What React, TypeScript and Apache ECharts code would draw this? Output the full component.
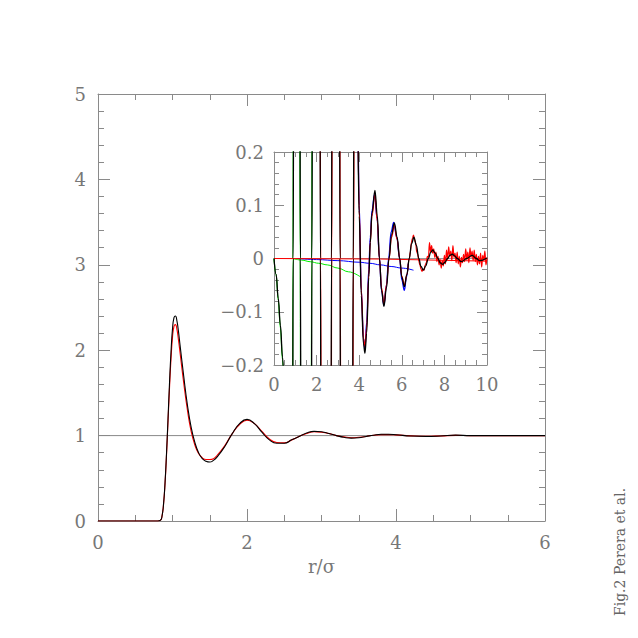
import React, { useEffect, useRef } from "react";
import * as echarts from "echarts";

// ---- Main panel: g(r) ----
const mainBlack: [number, number][] = [
  [0, 0], [0.8, 0], [0.84, 0.01], [0.86, 0.06], [0.88, 0.2], [0.9, 0.45], [0.92, 0.8], [0.94, 1.2],
  [0.96, 1.62], [0.98, 1.98], [1.0, 2.25], [1.02, 2.38], [1.04, 2.4], [1.06, 2.34], [1.08, 2.22],
  [1.1, 2.07], [1.15, 1.7], [1.2, 1.36], [1.25, 1.1], [1.3, 0.92], [1.35, 0.8], [1.4, 0.73],
  [1.45, 0.7], [1.5, 0.69], [1.55, 0.71], [1.6, 0.75], [1.7, 0.87], [1.8, 1.02], [1.9, 1.14],
  [2.0, 1.19], [2.1, 1.14], [2.2, 1.04], [2.3, 0.95], [2.4, 0.91], [2.5, 0.91], [2.6, 0.95],
  [2.7, 0.99], [2.8, 1.03], [2.9, 1.05], [3.0, 1.045], [3.1, 1.025], [3.2, 1.0], [3.3, 0.98],
  [3.4, 0.97], [3.5, 0.975], [3.6, 0.99], [3.7, 1.005], [3.8, 1.015], [3.9, 1.015], [4.0, 1.01],
  [4.2, 0.995], [4.4, 0.99], [4.6, 0.995], [4.8, 1.005], [5.0, 1.0], [5.4, 1.0], [6.0, 1.0],
];
const mainRed: [number, number][] = [
  [0, 0], [0.8, 0], [0.84, 0.01], [0.86, 0.06], [0.88, 0.2], [0.9, 0.44], [0.92, 0.78], [0.94, 1.17],
  [0.96, 1.56], [0.98, 1.9], [1.0, 2.15], [1.02, 2.28], [1.04, 2.3], [1.06, 2.24], [1.08, 2.12],
  [1.1, 1.98], [1.15, 1.62], [1.2, 1.3], [1.25, 1.05], [1.3, 0.89], [1.35, 0.79], [1.4, 0.74],
  [1.45, 0.72], [1.5, 0.72], [1.55, 0.73], [1.6, 0.77], [1.7, 0.88], [1.8, 1.02], [1.9, 1.13],
  [2.0, 1.18], [2.1, 1.14], [2.2, 1.05], [2.3, 0.96], [2.4, 0.92], [2.5, 0.915], [2.6, 0.95],
  [2.7, 0.99], [2.8, 1.025], [2.9, 1.045], [3.0, 1.04], [3.1, 1.025], [3.2, 1.0], [3.3, 0.985],
  [3.4, 0.975], [3.5, 0.98], [3.6, 0.99], [3.7, 1.005], [3.8, 1.012], [3.9, 1.012], [4.0, 1.008],
  [4.2, 0.997], [4.4, 0.992], [4.6, 0.996], [4.8, 1.003], [5.0, 1.0], [5.4, 1.0], [6.0, 1.0],
];
const mainRefLine: [number, number][] = [[0, 1], [6, 1]];

// ---- Inset ----
const insetBlack: [number, number][] = [
  [0, 0], [0.1, -0.03], [0.2, -0.075], [0.3, -0.125], [0.4, -0.185], [0.5, -0.26], [0.65, -0.5],
  [0.8, -1.0], [0.87, -0.5], [0.9, 0], [0.93, 0.5], [1.07, 2.0], [1.21, 0.5], [1.24, 0], [1.27, -0.5],
  [1.5, -1.5], [1.75, -0.5], [1.78, 0], [1.81, 0.5], [1.98, 1.2], [2.15, 0.5], [2.18, 0], [2.21, -0.5],
  [2.44, -0.9], [2.67, -0.5], [2.7, 0], [2.73, 0.5], [2.9, 0.9], [3.07, 0.5], [3.1, 0], [3.13, -0.5],
  [3.4, -0.7], [3.68, -0.4], [3.72, 0], [3.76, 0.35], [3.84, 0.45], [3.91, 0.3], [4.0, 0.08],
  [4.1, -0.07], [4.2, -0.16], [4.27, -0.178], [4.35, -0.14], [4.45, -0.035], [4.52, 0.03],
  [4.6, 0.085], [4.74, 0.128], [4.85, 0.08], [4.95, 0], [5.05, -0.06], [5.16, -0.09], [5.28, -0.055],
  [5.4, 0], [5.52, 0.045], [5.65, 0.067], [5.78, 0.04], [5.9, 0], [6.0, -0.035], [6.12, -0.053],
  [6.24, -0.03], [6.35, 0], [6.46, 0.028], [6.57, 0.04], [6.68, 0.025], [6.8, 0], [6.9, -0.015],
  [7.01, -0.022], [7.12, -0.014], [7.25, 0], [7.35, 0.011], [7.45, 0.016], [7.57, 0.01], [7.7, 0],
  [7.8, -0.008], [7.92, -0.011], [8.03, -0.007], [8.15, 0], [8.26, 0.006], [8.37, 0.008],
  [8.48, 0.005], [8.6, 0], [8.8, -0.006], [9.05, 0], [9.3, 0.006], [9.5, 0], [9.65, -0.004], [10, 0.001],
];
const insetRed: [number, number][] = [
  [2.0, 1.1], [2.16, 0.5], [2.19, 0], [2.22, -0.5], [2.45, -0.9], [2.68, -0.5], [2.71, 0], [2.74, 0.5],
  [2.9, 0.9], [3.08, 0.5], [3.11, 0], [3.14, -0.5], [3.4, -0.7], [3.69, -0.4], [3.73, 0], [3.77, 0.35],
  [3.85, 0.45], [3.92, 0.3], [4.0, 0.09], [4.1, -0.06], [4.2, -0.15], [4.27, -0.165], [4.35, -0.13],
  [4.45, -0.03], [4.52, 0.03], [4.6, 0.08], [4.74, 0.12], [4.85, 0.07], [4.95, 0.0], [5.05, -0.055],
  [5.16, -0.085], [5.28, -0.05], [5.4, 0.0], [5.52, 0.04], [5.65, 0.062], [5.78, 0.036], [5.9, 0.0],
  [6.0, -0.033], [6.12, -0.05], [6.24, -0.03], [6.35, 0.0],
  [6.4, 0.012], [6.45, 0.03], [6.5, 0.038], [6.55, 0.044], [6.6, 0.034], [6.65, 0.03], [6.7, 0.012],
  [6.75, 0.008], [6.8, -0.005], [6.85, -0.012], [6.9, -0.02], [6.95, -0.024], [7.0, -0.02],
  [7.05, -0.022], [7.1, -0.012], [7.15, -0.008], [7.2, 0.004], [7.25, 0.002], [7.3, 0.03],
  [7.35, 0.012], [7.4, 0.024], [7.45, 0.01], [7.5, 0.018], [7.55, 0.002], [7.6, 0.012],
  [7.65, -0.006], [7.7, 0.004], [7.75, -0.012], [7.8, -0.002], [7.85, -0.018], [7.9, -0.004],
  [7.95, -0.014], [8.0, 0.006], [8.05, -0.01], [8.1, 0.016], [8.15, -0.002], [8.2, 0.022],
  [8.25, 0.004], [8.3, 0.014], [8.35, -0.004], [8.4, 0.024], [8.45, 0.002], [8.5, 0.01],
  [8.55, -0.008], [8.6, 0.012], [8.65, -0.01], [8.7, 0.004], [8.75, -0.016], [8.8, 0.002],
  [8.85, -0.008], [8.9, 0.008], [8.95, -0.006], [9.0, 0.018], [9.05, -0.002], [9.1, 0.012],
  [9.15, -0.008], [9.2, 0.02], [9.25, 0.002], [9.3, 0.014], [9.35, -0.004], [9.4, 0.016],
  [9.45, -0.006], [9.5, 0.008], [9.55, -0.012], [9.6, 0.004], [9.65, -0.01], [9.7, 0.01],
  [9.75, -0.016], [9.8, 0.006], [9.85, -0.004], [9.9, 0.014], [9.95, -0.012], [10.0, 0.002],
];
const insetRedFlat: [number, number][] = [[0, 0], [5, -0.001], [10, -0.005]];
const insetGreenOsc: [number, number][] = [
  [0, 0], [0.1, -0.03], [0.2, -0.078], [0.3, -0.13], [0.4, -0.19], [0.5, -0.27], [0.65, -0.5],
  [0.8, -1.0], [0.86, -0.5], [0.89, 0], [0.92, 0.5], [1.06, 2.0], [1.2, 0.5], [1.23, 0], [1.26, -0.5],
  [1.5, -1.5], [1.74, -0.5], [1.77, 0], [1.8, 0.5], [1.9, 1.0],
];
const insetGreenTail: [number, number][] = [
  [0.9, 0], [1.3, -0.003], [1.7, -0.006], [2.1, -0.009], [2.5, -0.012], [3.0, -0.018],
  [3.5, -0.025], [4.04, -0.034],
];
const insetBlueTail: [number, number][] = [
  [1.1, 0], [2, -0.002], [3, -0.004], [4, -0.007], [4.5, -0.009], [5, -0.012], [5.5, -0.015],
  [6, -0.018], [6.55, -0.022],
];
const insetBlueOsc: [number, number][] = [
  [3.85, 0.45], [3.92, 0.3], [4.0, 0.1], [4.1, -0.06], [4.2, -0.15], [4.27, -0.17], [4.35, -0.12],
  [4.45, -0.02], [4.52, 0.04], [4.6, 0.09], [4.72, 0.12], [4.84, 0.075], [4.95, 0], [5.05, -0.06],
  [5.16, -0.088], [5.28, -0.05], [5.38, 0], [5.5, 0.05], [5.62, 0.068], [5.76, 0.04], [5.9, 0],
  [6.0, -0.04], [6.12, -0.06], [6.22, -0.035], [6.3, -0.01],
];
const insetRefLine: [number, number][] = [[0, 0], [10, 0]];

const xLabel = "r/σ";
const sideNote = "Fig.2 Perera et al.";

const FONT = "DejaVu Serif";
const AXIS_COLOR = "#8a8a8a";
const LABEL_COLOR = "#777";

function axisBase(extra: any) {
  return {
    type: "value",
    splitLine: { show: false },
    axisLine: { show: true, onZero: false, lineStyle: { color: AXIS_COLOR, width: 1 } },
    axisTick: { show: true, inside: true, length: 12, lineStyle: { color: AXIS_COLOR } },
    minorTick: { show: true, length: 6, lineStyle: { color: AXIS_COLOR } },
    axisLabel: { show: false },
    ...extra,
  };
}

export default function App() {
  const ref = useRef<HTMLDivElement>(null);
  useEffect(() => {
    if (!ref.current) return;
    const chart = echarts.init(ref.current, null, { renderer: "svg" });
    const lbl = (margin: number) => ({
      show: true,
      color: LABEL_COLOR,
      fontFamily: FONT,
      fontSize: 18,
      margin,
    });
    const insetFmt = (v: number) => {
      if (Math.abs(v) < 1e-9) return "0";
      const s = Math.abs(v).toFixed(1);
      return v < 0 ? "\u2212" + s : s;
    };
    const line = (data: any, color: string, xi: number, z = 2, width = 1, smooth: any = 0.4, mono: any = "x") => ({
      type: "line",
      data,
      xAxisIndex: xi,
      yAxisIndex: xi,
      showSymbol: false,
      symbol: "none",
      smooth,
      smoothMonotone: mono,
      clip: true,
      z,
      lineStyle: { color, width },
      emphasis: { disabled: true },
    });
    chart.setOption({
      animation: false,
      backgroundColor: "#fff",
      grid: [
        { left: 98, top: 94, width: 447, height: 427 },
        { left: 274, top: 152, width: 213, height: 213 },
      ],
      xAxis: [
        axisBase({
          gridIndex: 0, position: "bottom", min: 0, max: 6, interval: 2,
          minorTick: { show: true, splitNumber: 4, length: 6, lineStyle: { color: AXIS_COLOR } },
          axisLabel: lbl(12),
          name: xLabel, nameLocation: "middle", nameGap: 36,
          nameTextStyle: { color: LABEL_COLOR, fontFamily: FONT, fontSize: 18 },
        }),
        axisBase({
          gridIndex: 0, position: "top", min: 0, max: 6, interval: 2,
          minorTick: { show: true, splitNumber: 4, length: 6, lineStyle: { color: AXIS_COLOR } },
        }),
        axisBase({
          gridIndex: 1, position: "bottom", min: 0, max: 10, interval: 2,
          axisTick: { show: true, inside: true, length: 10, lineStyle: { color: AXIS_COLOR } },
          minorTick: { show: true, splitNumber: 4, length: 5, lineStyle: { color: AXIS_COLOR } },
          axisLabel: lbl(10),
        }),
        axisBase({
          gridIndex: 1, position: "top", min: 0, max: 10, interval: 2,
          axisTick: { show: true, inside: true, length: 10, lineStyle: { color: AXIS_COLOR } },
          minorTick: { show: true, splitNumber: 4, length: 5, lineStyle: { color: AXIS_COLOR } },
        }),
      ],
      yAxis: [
        axisBase({
          gridIndex: 0, position: "left", min: 0, max: 5, interval: 1,
          minorTick: { show: true, splitNumber: 5, length: 6, lineStyle: { color: AXIS_COLOR } },
          axisLabel: lbl(12),
        }),
        axisBase({
          gridIndex: 0, position: "right", min: 0, max: 5, interval: 1,
          minorTick: { show: true, splitNumber: 5, length: 6, lineStyle: { color: AXIS_COLOR } },
        }),
        axisBase({
          gridIndex: 1, position: "left", min: -0.2, max: 0.2, interval: 0.1,
          axisTick: { show: true, inside: true, length: 10, lineStyle: { color: AXIS_COLOR } },
          minorTick: { show: true, splitNumber: 5, length: 5, lineStyle: { color: AXIS_COLOR } },
          axisLabel: { ...lbl(10), formatter: insetFmt },
        }),
        axisBase({
          gridIndex: 1, position: "right", min: -0.2, max: 0.2, interval: 0.1,
          axisTick: { show: true, inside: true, length: 10, lineStyle: { color: AXIS_COLOR } },
          minorTick: { show: true, splitNumber: 5, length: 5, lineStyle: { color: AXIS_COLOR } },
        }),
      ],
      series: [
        line(mainRefLine, "#888", 0, 1, 1, false, null),
        line(mainRed, "#ff0000", 0, 2, 1.1, 0.5, null),
        line(mainBlack, "#000000", 0, 3, 1.1, 0.5, null),
        line(insetRefLine, "#999", 2, 1, 1, false, null),
        line(insetGreenOsc, "#00dd00", 2, 2, 1.2),
        line(insetGreenTail, "#00ee00", 2, 2),
        line(insetBlueTail, "#0000ff", 2, 2),
        line(insetBlueOsc, "#0000ff", 2, 3, 1.3),
        line(insetRedFlat, "#ff0000", 2, 3, 1, false, null),
        line(insetRed, "#ff0000", 2, 4, 1.2),
        line(insetBlack, "#000000", 2, 5, 1.3),
      ],
      graphic: [
        {
          type: "text",
          x: 620,
          y: 552,
          rotation: Math.PI / 2,
          style: {
            text: sideNote,
            fill: "#666",
            font: `14px "${FONT}"`,
            textAlign: "center",
            textVerticalAlign: "middle",
          },
        },
      ],
    });
    return () => chart.dispose();
  }, []);
  return (
    <div
      ref={ref}
      style={{ position: "fixed", left: 0, top: 0, width: 638, height: 638, background: "#fff" }}
    />
  );
}
